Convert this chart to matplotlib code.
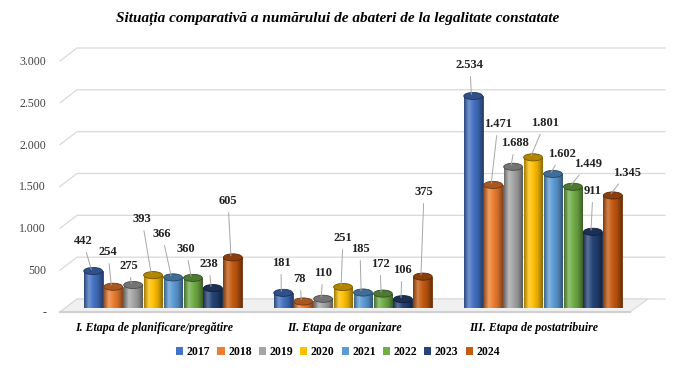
import numpy as np
import matplotlib
matplotlib.use("Agg")
import matplotlib.pyplot as plt
import matplotlib.colors as mcolors
from matplotlib.patches import Ellipse, Patch, Polygon

# --- data ---
stages = ["I. Etapa de planificare/pregătire",
          "II. Etapa de organizare",
          "III. Etapa de postatribuire"]
years = ["2017", "2018", "2019", "2020", "2021", "2022", "2023", "2024"]
v2017 = [442, 181, 2534]
v2018 = [254, 78, 1471]
v2019 = [275, 110, 1688]
v2020 = [393, 251, 1801]
v2021 = [366, 185, 1602]
v2022 = [360, 172, 1449]
v2023 = [238, 106, 911]
v2024 = [605, 375, 1345]
series = [v2017, v2018, v2019, v2020, v2021, v2022, v2023, v2024]
ticks = [0, 500, 1000, 1500, 2000, 2500, 3000]

colors = ["#4472C4", "#ED7D31", "#A5A5A5", "#FFC000",
          "#5B9BD5", "#70AD47", "#264478", "#C55A11"]

# label text positions in figure pixels (from top-left), per series per stage
label_px = [
    [(83, 241), (281, 263), (470, 65)],
    [(108, 252), (300, 279), (498, 124)],
    [(129, 266), (323, 273), (515, 143)],
    [(142, 219), (343, 238), (545, 123)],
    [(162, 234), (360, 249), (562, 154)],
    [(186, 249), (380, 264), (588, 164)],
    [(209, 264), (402, 270), (593, 191)],
    [(228, 201), (424, 192), (627, 173)],
]

W, H = 675, 373
serif = ["Liberation Serif", "DejaVu Serif"]

fig = plt.figure(figsize=(W / 100, H / 100), dpi=100)
ax = fig.add_axes([68 / W, 1 - 308 / H, (665 - 68) / W, (308 - 57) / H])

x = np.arange(len(stages))
bw = 0.105
ax.set_xlim(-0.5, (665 - 163) / 190)
ax.set_ylim(0, 3000)

px = lambda p: (p - 163) / 190     # figure px -> data x
upx = 3000 / (308 - 57)            # data units per pixel (y)


def shade(c, f):
    r = np.array(mcolors.to_rgb(c))
    if f >= 0:
        return tuple(r + (1 - r) * f)
    return tuple(r * (1 + f))


# back-wall gridlines with a perspective kink on the left
back = 9 * upx
for t in ticks:
    yb = t + back
    ax.plot([px(60), px(77), px(665)], [yb - 13 * upx, yb, yb],
            color="#D9D9D9", lw=0.9, zorder=0, clip_on=False)
    lab = "-" if t == 0 else f"{t:,}".replace(",", ".")
    ax.text(px(46), t - 5 * upx, lab, ha="right", va="center", fontsize=8.5,
            family=serif, color="#404040")

# floor slab
ax.add_patch(Polygon([(px(60), -4 * upx), (px(630), -4 * upx),
                      (px(648), back), (px(77), back)],
                     closed=True, facecolor="#F0F0F0", edgecolor="#D9D9D9",
                     lw=0.8, zorder=1, clip_on=False))
ax.plot([px(60), px(630)], [-4 * upx, -4 * upx], color="#D0D0D0", lw=1.5,
        zorder=1, clip_on=False)

for i, (vals, col) in enumerate(zip(series, colors)):
    xs = x + (i - 3.5) * bw
    bars = ax.bar(xs, vals, width=bw * 0.94, color=col, edgecolor=shade(col, -0.45),
                  linewidth=0.6, zorder=2)
    cmap = mcolors.LinearSegmentedColormap.from_list(
        "c", [shade(col, -0.35), shade(col, 0.25), col, shade(col, -0.15), shade(col, -0.45)])
    grad = np.linspace(0, 1, 64).reshape(1, -1)
    for b in bars:
        x0, w, h = b.get_x(), b.get_width(), b.get_height()
        im = ax.imshow(grad, cmap=cmap, extent=(x0, x0 + w, 0, h), aspect="auto",
                       zorder=2.5, interpolation="bilinear")
        im.set_clip_path(b)
        ax.add_patch(Ellipse((x0 + w / 2, h), w, 85, facecolor=shade(col, -0.3),
                             edgecolor=shade(col, -0.55), linewidth=0.6, zorder=3))
    for j, (b, v) in enumerate(zip(bars, vals)):
        tx, ty = label_px[i][j]
        lab = f"{v:,}".replace(",", ".")
        ax.annotate(lab, xy=(b.get_x() + b.get_width() * 0.4, v + 20),
                    xytext=(tx, H - ty), textcoords="figure pixels",
                    ha="center", va="center", fontsize=9, fontweight="bold",
                    family=serif, color="#222222", zorder=4,
                    arrowprops=dict(arrowstyle="-", color="#A6A6A6", lw=0.7,
                                    shrinkA=2, shrinkB=0))

ax.set_xticks([])
ax.set_yticks([])
for s in ax.spines.values():
    s.set_visible(False)

for xc, name in zip(x, stages):
    ax.text(xc - 9 / 190, 1 - (328 - 57) / (308 - 57), name, transform=ax.get_xaxis_transform(),
            ha="center", va="center", fontsize=8.6, fontweight="bold", fontstyle="italic",
            family=serif)

fig.text(0.5, 1 - 18 / H, "Situația comparativă a numărului de abateri de la legalitate constatate",
         ha="center", va="center", fontsize=11, fontweight="bold", fontstyle="italic",
         family=serif)

handles = [Patch(facecolor=c, label=y) for c, y in zip(colors, years)]
fig.legend(handles=handles, loc="center", bbox_to_anchor=(338 / W, 1 - 352 / H), ncol=8,
           frameon=False, prop=dict(family=serif, weight="bold", size=8.5),
           handlelength=0.6, handleheight=0.6, handletextpad=0.3, columnspacing=0.6)

fig.savefig("out.png", dpi=100)
